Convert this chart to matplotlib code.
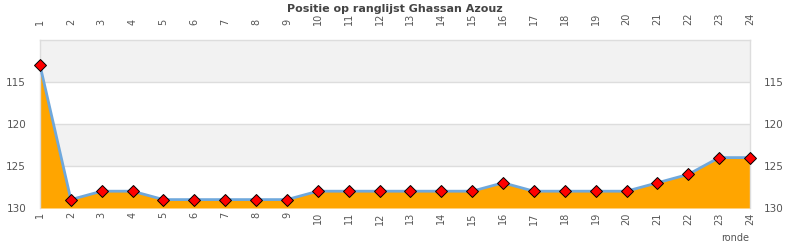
import matplotlib
matplotlib.use('Agg')
import matplotlib.pyplot as plt

rounds = list(range(1, 25))
positions = [113, 129, 128, 128, 129, 129, 129, 129, 129, 128, 128, 128,
             128, 128, 128, 127, 128, 128, 128, 128, 127, 126, 124, 124]
y_ticks = [115, 120, 125, 130]

txt = '#555555'
grid = '#dddddd'

fig = plt.figure(figsize=(7.9, 2.5), dpi=100)
ax = fig.add_axes([40 / 790, 42 / 250, 710 / 790, 168 / 250])

# alternating background bands
for lo, hi, c in [(110, 115, '#f2f2f2'), (115, 120, 'white'),
                  (120, 125, '#f2f2f2'), (125, 130, 'white')]:
    ax.axhspan(lo, hi, color=c, zorder=0, lw=0)
for t in y_ticks[:-1]:
    ax.axhline(t, color=grid, lw=1, zorder=1)

ax.fill_between(rounds, positions, 130, color='#ffa500', lw=0, zorder=2)
ax.plot(rounds, positions, color='#6fa8dc', lw=2, zorder=3)
ax.plot(rounds, positions, ls='none', marker='D', ms=6, mfc='#ff0000',
        mec='black', mew=0.7, zorder=4, clip_on=False)

ax.set_xlim(1, 24)
ax.set_ylim(130, 110)
ax.set_xticks(rounds)
ax.set_xticklabels([str(r) for r in rounds], rotation=90)
ax.set_yticks(y_ticks)
ax.tick_params(axis='x', length=0, labelsize=7, colors=txt, pad=3)
ax.tick_params(axis='y', which='both', left=True, right=True, labelleft=True,
               labelright=True, length=0, labelsize=7.5, colors=txt, pad=10)

# top copy of the round labels, sitting a bit higher
top = ax.secondary_xaxis('top')
top.set_xticks(rounds)
top.set_xticklabels([str(r) for r in rounds], rotation=90)
top.tick_params(length=0, labelsize=7, colors=txt, pad=11)
top.spines['top'].set_visible(False)

for side in ['left', 'top', 'right']:
    ax.spines[side].set_color(grid)
    ax.spines[side].set_linewidth(1)
ax.spines['bottom'].set_visible(False)

fig.text(0.5, 0.962, 'Positie op ranglijst Ghassan Azouz', ha='center',
         va='center', fontsize=8, fontweight='bold', color='#444444')
fig.text(749 / 790, 1 - 238 / 250, 'ronde', ha='right', va='center',
         fontsize=7, color=txt)

fig.savefig('out.png', dpi=100)
